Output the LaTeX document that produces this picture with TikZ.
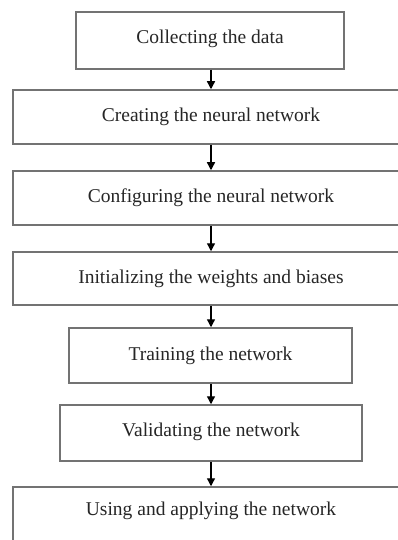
\documentclass[tikz,border=0pt]{standalone}
\usepackage{fontspec}
\setmainfont{Liberation Serif}
\usetikzlibrary{arrows.meta}
\begin{document}
\begin{tikzpicture}[x=1pt,y=-1pt,
  stepbox/.style={draw=black!55, line width=1.5pt, fill=white, inner sep=0pt,
    font=\fontsize{19.5}{22}\selectfont, text=black!85},
  conn/.style={draw=black, line width=1.3pt, -{Triangle[width=8pt,length=8pt]}}]
\useasboundingbox (0,0) rectangle (398,540);
\clip (0,0) rectangle (398,540);
\fill[white] (0,0) rectangle (398,540);
\node[stepbox, minimum width=268pt, minimum height=57pt, text depth=8pt] (a) at (210,40.5) {Collecting the data};
\node[stepbox, minimum width=396pt, minimum height=54pt] (b) at (211,117) {Creating the neural network};
\node[stepbox, minimum width=396pt, minimum height=54pt] (c) at (211,198) {Configuring the neural network};
\node[stepbox, minimum width=396pt, minimum height=53pt] (d) at (211,278.5) {Initializing the weights and biases};
\node[stepbox, minimum width=283pt, minimum height=55pt] (e) at (210.5,355.5) {Training the network};
\node[stepbox, minimum width=302pt, minimum height=56pt, text depth=6pt] (f) at (211,433) {Validating the network};
\node[stepbox, minimum width=396pt, minimum height=58pt, text depth=14pt] (g) at (211,516) {Using and applying the network};
\draw[conn] (a.south -| 211,0) -- (b.north -| 211,0);
\draw[conn] (b.south -| 211,0) -- (c.north -| 211,0);
\draw[conn] (c.south -| 211,0) -- (d.north -| 211,0);
\draw[conn] (d.south -| 211,0) -- (e.north -| 211,0);
\draw[conn] (e.south -| 211,0) -- (f.north -| 211,0);
\draw[conn] (f.south -| 211,0) -- (g.north -| 211,0);
\end{tikzpicture}
\end{document}
